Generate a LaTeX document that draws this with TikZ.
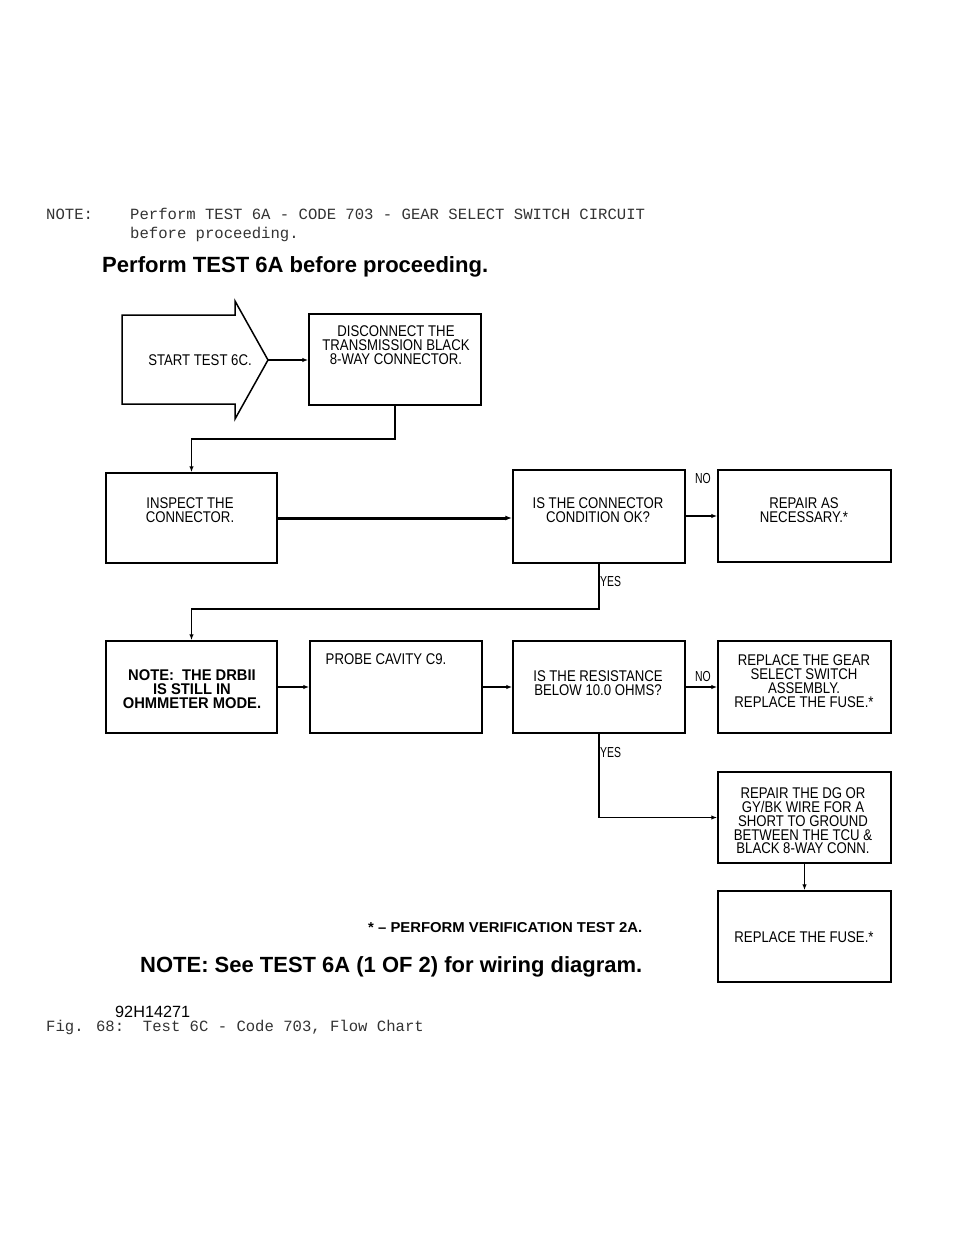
\documentclass[tikz,border=0pt]{standalone}
\usepackage{fontspec}
\setmainfont{Liberation Sans}
\newfontfamily\monofont{Liberation Mono}
\newfontfamily\boxfont[FakeStretch=0.85]{Liberation Sans}
\newfontfamily\boxbfont[FakeStretch=0.95]{Liberation Sans}
\newfontfamily\lblfont[FakeStretch=0.72]{Liberation Sans}
\newcommand\mytightls{\lineskiplimit=-20pt\relax}
\usetikzlibrary{arrows.meta,fit}
\begin{document}
\begin{tikzpicture}[x=1pt,y=-1pt,
  box/.style={draw, line width=1.5pt, inner sep=0pt, fit={#1}},
  btxt/.style={font={\boxfont\fontsize{15.5}{13.8}\selectfont\mytightls}, align=center, inner sep=0pt},
  bbtxt/.style={font={\boxbfont\bfseries\fontsize{15.5}{13.8}\selectfont\mytightls}, align=center, inner sep=0pt},
  mono/.style={font=\monofont\fontsize{15.6}{19}\selectfont, text=black!80, inner sep=0pt, anchor=base west},
  conn/.style={line width=1.5pt, -{Latex[length=6pt,width=4.5pt]}},
  thick conn/.style={line width=3pt, -{Latex[length=7pt,width=5pt]}},
  lbl/.style={font=\lblfont\fontsize{14.5}{14.5}\selectfont, inner sep=0pt}]
\useasboundingbox[fill=white] (0,0) rectangle (960,1242);

% header
\node[mono] (n0) at (46,219) {NOTE:};
\node[mono] (n1) at (130,219) {Perform TEST 6A - CODE 703 - GEAR SELECT SWITCH CIRCUIT};
\node[mono] (n2) at (130,238) {before proceeding.};
\node[anchor=west, inner sep=0pt] (h1) at (102,267) {\resizebox{386pt}{!}{\bfseries Perform TEST 6A before proceeding.}};

% start arrow
\draw[line width=1.5pt, line join=miter] (122,315) -- (235,315) -- (235,301) -- (268,360) -- (235,419) -- (235,404) -- (122,404) -- cycle;
\coordinate (tip) at (268,360);
\node[btxt] (st) at (200,360) {START TEST 6C.};

% row 0
\node[box={(309,314)(481,405)}] (b1) {};
\node[btxt] (t1) at (396,345) {DISCONNECT THE\\TRANSMISSION BLACK\\8-WAY CONNECTOR.};

% row 1
\node[box={(106,473)(277,563)}] (b2) {};
\node[btxt] (t2) at (190,510) {INSPECT THE\\CONNECTOR.};
\node[box={(513,470)(685,563)}] (b3) {};
\node[btxt] (t3) at (598,510) {IS THE CONNECTOR\\CONDITION OK?};
\node[box={(718,470)(891,562)}] (b4) {};
\node[btxt] (t4) at (804,510) {REPAIR AS\\NECESSARY.*};

% row 2
\node[box={(106,641)(277,733)}] (b5) {};
\node[bbtxt] (t5) at (192,689) {NOTE:\ \ THE DRBII\\IS STILL IN\\OHMMETER MODE.};
\node[box={(310,641)(482,733)}] (b6) {};
\node[btxt] (t6) at (386,659) {PROBE CAVITY C9.};
\node[box={(513,641)(685,733)}] (b7) {};
\node[btxt] (t7) at (598,683) {IS THE RESISTANCE\\BELOW 10.0 OHMS?};
\node[box={(718,641)(891,733)}] (b8) {};
\node[btxt] (t8) at (804,681) {REPLACE THE GEAR\\SELECT SWITCH\\ASSEMBLY.\\REPLACE THE FUSE.*};

% lower right
\node[box={(718,772)(891,863)}] (b9) {};
\node[btxt] (t9) at (803,821) {REPAIR THE DG OR\\GY/BK WIRE FOR A\\SHORT TO GROUND\\BETWEEN THE TCU \&\\BLACK 8-WAY CONN.};
\node[box={(718,891)(891,982)}] (b10) {};
\node[btxt] (t10) at (804,937) {REPLACE THE FUSE.*};

% connectors
\draw[conn] (tip) -- (tip -| b1.west);
\draw[conn] (b1.south) -- (b1.south |- 0,439) -| (b2.north);
\draw[thick conn] (b2.east) -- (b2.east -| b3.west);
\draw[conn] (b3.east |- b4.west) -- (b4.west);
\draw[conn] (b3.south) -- (b3.south |- 0,609) -| (b5.north);
\draw[conn] (b5.east) -- (b5.east -| b6.west);
\draw[conn] (b6.east) -- (b6.east -| b7.west);
\draw[conn] (b7.east) -- (b7.east -| b8.west);
\draw[conn] (b7.south) |- (b9.west);
\draw[conn] (b9.south) -- (b10.north);

% labels
\node[lbl] (no1) at (703,479) {NO};
\node[lbl] (no2) at (703,677) {NO};
\node[lbl, anchor=west] (yes1) at (600,582) {YES};
\node[lbl, anchor=west] (yes2) at (600,752) {YES};

% footer
\node[anchor=west, inner sep=0pt] (f1) at (368,928) {\resizebox{274pt}{10pt}{\bfseries * -- PERFORM VERIFICATION TEST 2A.}};
\node[anchor=west, inner sep=0pt] (f2) at (140,967) {\resizebox{502pt}{!}{\bfseries NOTE: See TEST 6A (1 OF 2) for wiring diagram.}};
\node[anchor=base west, inner sep=0pt] (f3) at (115,1017) {\resizebox{75pt}{!}{92H14271}};
\node[mono] (f4) at (46,1031) {Fig. 68:\ \ Test 6C - Code 703, Flow Chart};
\end{tikzpicture}
\end{document}
